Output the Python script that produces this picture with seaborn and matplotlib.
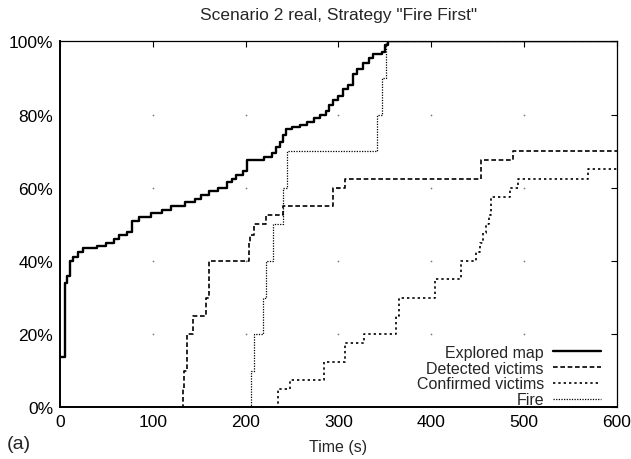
import numpy as np
import pandas as pd
import seaborn as sns
import matplotlib.pyplot as plt
from matplotlib.ticker import FuncFormatter

# Step data: (time when the value changes, value in % after the change)
explored_t = [0, 5.5, 7, 10.5, 14, 19, 25, 40, 50, 58, 64, 72, 78, 85, 98, 110, 120,
              135, 145, 152, 160, 170, 180, 185, 190, 197, 201, 220, 228, 233, 237,
              240, 243, 250, 258, 266, 274, 280, 286, 290, 294, 299, 305, 310, 316,
              320, 326, 333, 337, 347, 350, 353, 600]
explored_v = [13.7, 34, 36, 40, 41, 42.5, 43.5, 44, 45, 46, 47, 48, 51, 52, 53, 54, 55,
              56, 57, 58, 59, 60, 61.5, 62.5, 63.5, 64.5, 67.5, 68.5, 69.5, 71, 72.5,
              74.5, 76, 76.5, 77, 78, 79, 80, 81, 82.5, 84, 85, 87, 88, 91,
              92.5, 94, 95.5, 96.5, 97, 99, 100, 100]

detected_t = [130, 132, 134, 136.5, 143.5, 157, 161, 203.5, 205, 209.5, 222, 240,
              294, 306.5, 454, 488.5, 600]
detected_v = [0, 5, 10, 20, 25, 30, 40, 45, 47, 50, 52.5, 55,
              60, 62.5, 67.5, 70, 70]

confirmed_t = [233, 234.5, 247.5, 284, 306.5, 328, 362, 365.5, 403.5, 432, 448, 452,
               456, 459, 462, 464.5, 484.5, 493.5, 568.5, 600]
confirmed_v = [0, 5, 7.5, 12.5, 17.5, 20, 25, 30, 35, 40, 42.5, 45,
               47.5, 50, 52.5, 57.5, 60, 62.5, 65, 65]

fire_t = [205, 206, 208.5, 219, 221.5, 229, 240, 244.5, 341.5, 347, 351, 600]
fire_v = [0, 10, 20, 30, 40, 50, 60, 70, 80, 90, 100, 100]

x_ticks = [0, 100, 200, 300, 400, 500, 600]
y_ticks = [0, 20, 40, 60, 80, 100]

sns.set_theme(style="white")
plt.rcParams['font.family'] = ['Liberation Sans', 'DejaVu Sans']

fig = plt.figure(figsize=(6.31, 4.60), dpi=100)
ax = fig.add_axes([0.0951, 0.1124, 0.8827, 0.7956])

series = [
    ("Explored map", explored_t, explored_v, '-', 1.7),
    ("Detected victims", detected_t, detected_v, (0, (2.8, 1.6)), 1.2),
    ("Confirmed victims", confirmed_t, confirmed_v, (0, (1.4, 1.8)), 1.2),
    ("Fire", fire_t, fire_v, (0, (1.0, 1.1)), 0.9),
]
for name, t, v, ls, lw in series:
    df = pd.DataFrame({"t": t, "v": v})
    sns.lineplot(data=df, x="t", y="v", ax=ax, drawstyle='steps-post',
                 color='black', linestyle=ls, linewidth=lw, label=name)

# gnuplot-like grid dots at tick intersections
gx, gy = np.meshgrid(x_ticks[1:-1], y_ticks[1:-1])
ax.scatter(gx.ravel(), gy.ravel(), s=1.5, color='#777777', linewidths=0, zorder=0)

ax.set_xlim(0, 600)
ax.set_ylim(0, 100)
ax.set_xticks(x_ticks)
ax.set_yticks(y_ticks)
ax.yaxis.set_major_formatter(FuncFormatter(lambda v, p: f"{int(v)}%"))
ax.tick_params(direction='in', top=True, right=True, length=4, width=0.8,
               labelsize=12.5, colors='black', pad=5)
for side in ['left', 'bottom']:
    ax.spines[side].set_linewidth(1.4)
for side in ['top', 'right']:
    ax.spines[side].set_linewidth(0.9)
for s in ax.spines.values():
    s.set_color('black')

ax.set_title('Scenario 2 real, Strategy "Fire First"', fontsize=12.5, pad=16)
ax.set_xlabel("Time (s)", fontsize=11.5, labelpad=7)
ax.set_ylabel("")
fig.text(0.011, 0.033, "(a)", fontsize=14, va='center', ha='left')

ax.legend(loc='lower right', bbox_to_anchor=(0.972, 0.0), markerfirst=False,
          frameon=False, fontsize=11.5, handlelength=3.0, handletextpad=0.6,
          labelspacing=0.05, borderpad=0, borderaxespad=0)

fig.savefig("out.png", dpi=100)
